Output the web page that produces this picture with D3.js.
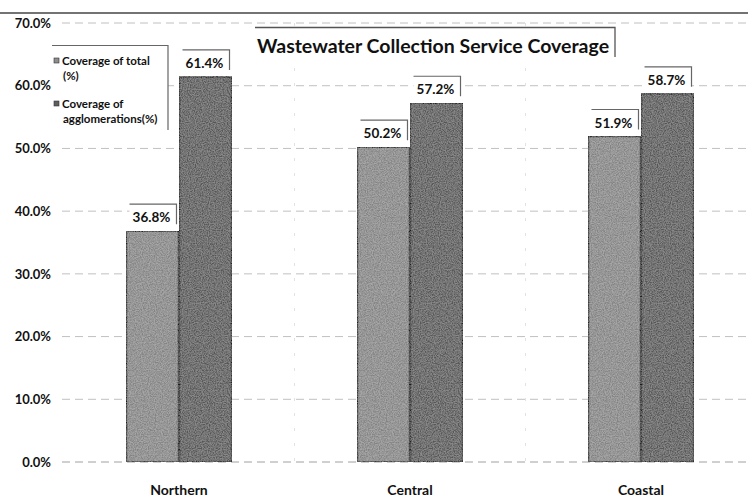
<!DOCTYPE html>
<html>
<head>
<meta charset="utf-8">
<script src="https://cdn.jsdelivr.net/npm/d3@7/dist/d3.min.js"></script>
<style>
  html, body { margin: 0; padding: 0; background: #fff; }
  svg { display: block; }
  text { font-family: Lato, "Open Sans", sans-serif; font-weight: bold; fill: #111; }
</style>
</head>
<body>
<svg id="chart" width="748" height="500"></svg>
<script>
// Wastewater collection service coverage by region
const categories = ["Northern", "Central", "Coastal"];
const seriesNames = ["Coverage of total (%)", "Coverage of agglomerations(%)"];
const coverageTotal = [0.368, 0.502, 0.519];
const coverageAgglomerations = [0.614, 0.572, 0.587];
const yTicks = [0, 0.1, 0.2, 0.3, 0.4, 0.5, 0.6, 0.7];
const seriesColors = ["#8e8e8e", "#5e5e5e"];

const series = [coverageTotal, coverageAgglomerations];
const rows = categories.map((c, i) => ({ category: c, values: series.map(s => s[i]) }));

const W = 748, H = 500;
const svg = d3.select("#chart");

const defs = svg.append("defs");
// speckled texture for the bar fills
const grain = defs.append("filter").attr("id", "grain").attr("x", 0).attr("y", 0).attr("width", 1).attr("height", 1);
grain.append("feTurbulence").attr("type", "fractalNoise").attr("baseFrequency", 0.85).attr("numOctaves", 2).attr("seed", 5).attr("result", "noise");
grain.append("feColorMatrix").attr("in", "noise").attr("type", "matrix")
  .attr("values", "2.2 0 0 0 -0.6  2.2 0 0 0 -0.6  2.2 0 0 0 -0.6  0 0 0 0 0.16")
  .attr("result", "speck");
grain.append("feComposite").attr("in", "speck").attr("in2", "SourceGraphic").attr("operator", "in").attr("result", "clip");
grain.append("feBlend").attr("in", "clip").attr("in2", "SourceGraphic").attr("mode", "normal");

const y = d3.scaleLinear().domain([0, 0.7]).range([462, 23]);
const x = d3.scaleBand().domain(categories).range([63.5, 756.5]).paddingInner(0.541).paddingOuter(0.2705);
const xs = d3.scaleBand().domain(d3.range(series.length)).range([0, x.bandwidth()]);
const pct = d3.format(".1%");

// frame line across the top
svg.append("line").attr("x1", 0).attr("x2", W).attr("y1", 13).attr("y2", 13)
  .attr("stroke", "#444").attr("stroke-width", 1.6);

// horizontal gridlines and y-axis labels
const yAxis = d3.axisLeft(y).tickValues(yTicks).tickFormat(pct).tickSize(0).tickPadding(0);
const gy = svg.append("g").attr("transform", "translate(51,0)").call(yAxis);
gy.select(".domain").remove();
gy.selectAll("text").style("font-size", "13px").attr("fill", "#111");

const grid = svg.append("g");
grid.selectAll("line.h").data(yTicks).join("line").attr("class", "h")
  .attr("x1", 62).attr("x2", W).attr("y1", d => y(d)).attr("y2", d => y(d))
  .attr("stroke", d => d === 0 ? "#a0a0a0" : "#c0c0c0").attr("stroke-width", 1)
  .attr("stroke-dasharray", "8,5");

// faint vertical gridlines between categories
const bounds = categories.slice(1).map(c => x(c) - x.step() * x.paddingInner() / 2);
grid.selectAll("line.v").data(bounds).join("line").attr("class", "v")
  .attr("x1", d => d).attr("x2", d => d).attr("y1", y(0.7)).attr("y2", y(0))
  .attr("stroke", "#e2e2e2").attr("stroke-width", 1).attr("stroke-dasharray", "3,12");

// bars
const groups = svg.append("g").selectAll("g").data(rows).join("g")
  .attr("transform", d => `translate(${x(d.category)},0)`);

groups.selectAll("rect").data(d => d.values.map((v, i) => ({ v, i }))).join("rect")
  .attr("x", d => xs(d.i) + 0.5)
  .attr("y", d => y(d.v))
  .attr("width", xs.bandwidth() - 1)
  .attr("height", d => y(0) - y(d.v))
  .attr("fill", d => seriesColors[d.i])
  .attr("stroke", "#1e1e1e").attr("stroke-width", 1.4)
  .attr("filter", "url(#grain)");

// value labels with white box, top and right edge shaded
const labels = groups.selectAll("g.lbl").data(d => d.values.map((v, i) => ({ v, i }))).join("g").attr("class", "lbl");
labels.each(function(d) {
  const g = d3.select(this);
  const cx = xs(d.i) + xs.bandwidth() / 2;
  const top = y(d.v) - 27;
  const bx = cx - 23, bw = 47;
  g.append("rect").attr("x", bx).attr("y", top).attr("width", bw).attr("height", 26).attr("fill", "#fff");
  g.append("path").attr("d", `M${bx},${top}H${bx + bw}V${top + 20}`)
    .attr("fill", "none").attr("stroke", "#666").attr("stroke-width", 1.2);
  g.append("text").attr("x", cx - 1).attr("y", top + 18).attr("text-anchor", "middle")
    .style("font-size", "13.5px").text(pct(d.v));
});

// category labels
svg.append("g").selectAll("text").data(categories).join("text")
  .attr("x", d => x(d) + x.bandwidth() / 2).attr("y", 495).attr("text-anchor", "middle")
  .style("font-size", "14px").text(d => d);

// title with shaded top/right edge
svg.append("rect").attr("x", 252).attr("y", 27).attr("width", 363).attr("height", 31).attr("fill", "#fff");
svg.append("path").attr("d", "M255,27.5H615V57").attr("fill", "none").attr("stroke", "#555").attr("stroke-width", 1.3);
svg.append("text").attr("x", 433).attr("y", 53).attr("text-anchor", "middle")
  .style("font-size", "19.5px").text("Wastewater Collection Service Coverage");

// legend
const lg = svg.append("g");
lg.append("rect").attr("x", 52).attr("y", 45).attr("width", 116).attr("height", 85).attr("fill", "#fff");
lg.append("path").attr("d", "M52,45.5H168V130").attr("fill", "none").attr("stroke", "#666").attr("stroke-width", 1.2);
const legendLines = [["Coverage of total", "(%)"], ["Coverage of", "agglomerations(%)"]];
const legendItems = lg.selectAll("g").data(seriesNames).join("g")
  .attr("transform", (d, i) => `translate(0,${i * 43})`);
legendItems.append("rect").attr("x", 54).attr("y", 58).attr("width", 5).attr("height", 5)
  .attr("fill", (d, i) => seriesColors[i]).attr("stroke", "#333").attr("stroke-width", 0.6);
legendItems.each(function(d, i) {
  const t = d3.select(this).append("text").style("font-size", "11.5px");
  legendLines[i].forEach((ln, k) => {
    t.append("tspan").attr("x", k === 0 ? 62 : 63).attr("y", 65 + k * 14.5).text(ln);
  });
});
</script>
</body>
</html>
